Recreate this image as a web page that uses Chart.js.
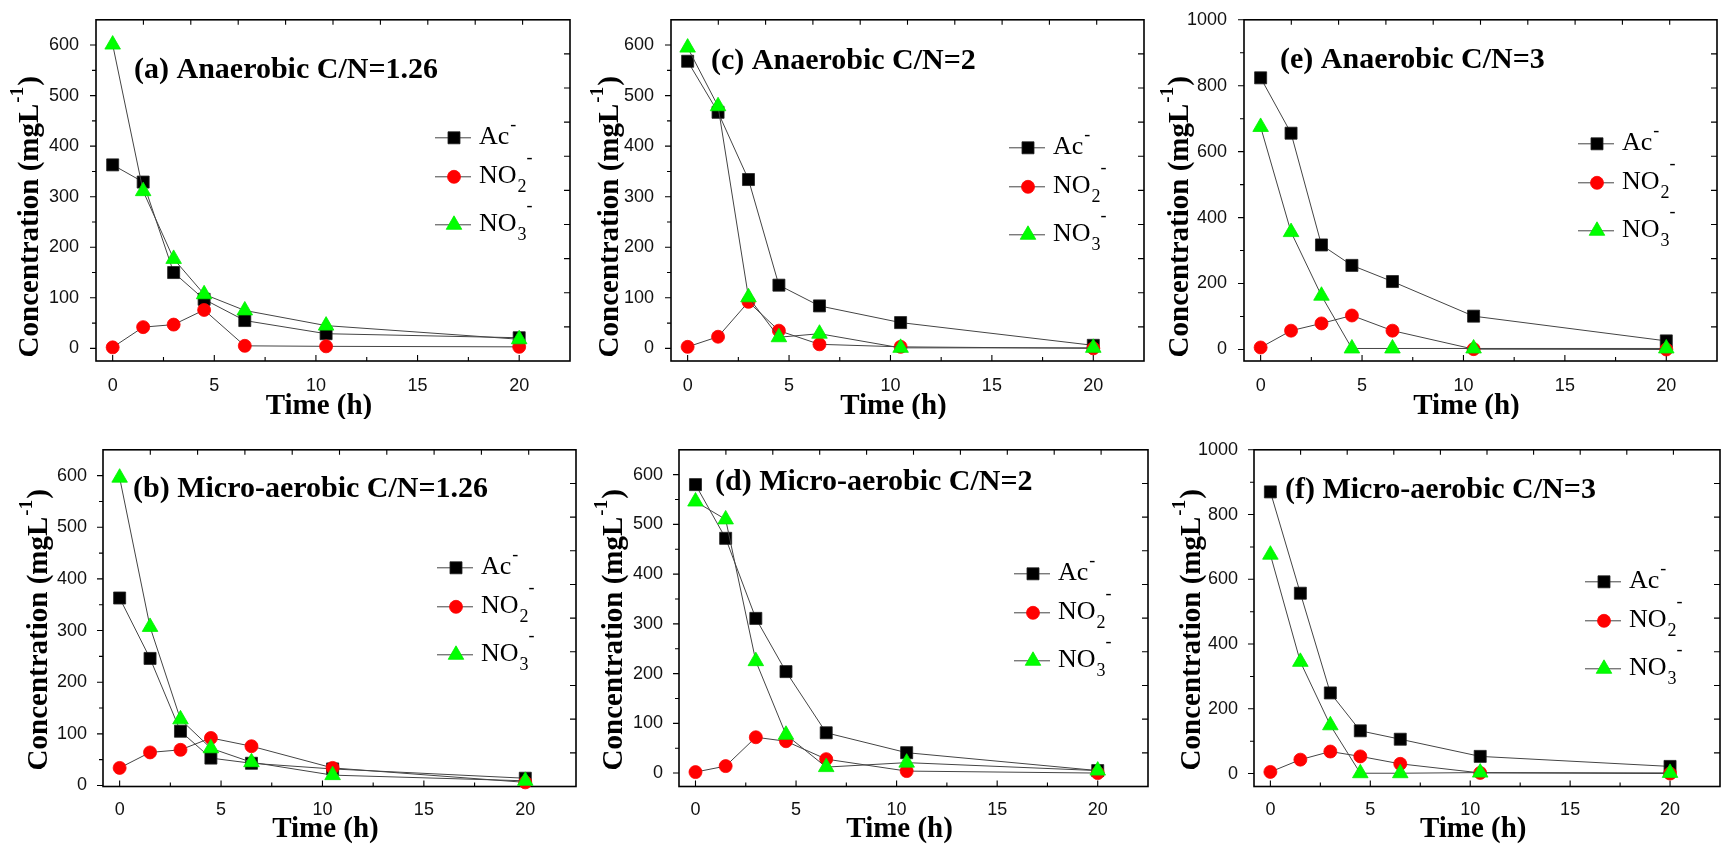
<!DOCTYPE html>
<html>
<head>
<meta charset="utf-8">
<script src="https://cdn.jsdelivr.net/npm/chart.js@4.4.0/dist/chart.umd.min.js"></script>
<style>
  html, body { margin: 0; padding: 0; background: #fff; }
  #lienzo { position: relative; width: 1723px; height: 844px; overflow: hidden; background: #fff; }
  #lienzo canvas { position: absolute; }
</style>
</head>
<body>
<div id="lienzo"></div>
<script>
// tiempos de muestreo (h) y marcas de los ejes
const horas = [0, 1.5, 3, 4.5, 6.5, 10.5, 20];
const marcasX = [0, 5, 10, 15, 20];
const marcasY600 = [0, 100, 200, 300, 400, 500, 600];
const marcasY1000 = [0, 200, 400, 600, 800, 1000];

// (a) Anaerobic C/N=1.26
const acA = [363, 329, 150, 97, 55, 29, 21];
const no2A = [2, 42, 47, 76, 5, 4, 3];
const no3A = [601, 311, 177, 107, 75, 45, 18];
// (c) Anaerobic C/N=2
const acC = [568, 467, 334, 125, 84, 51, 6];
const no2C = [3, 23, 92, 35, 8, 3, 0];
const no3C = [595, 479, 101, 22, 29, 1, 1];
// (e) Anaerobic C/N=3
const acE = [824, 656, 317, 255, 206, 101, 26];
const no2E = [6, 57, 79, 103, 57, 1, 0];
const no3E = [675, 356, 163, 3, 3, 3, 3];
// (b) Micro-aerobic C/N=1.26
const acB = [363, 246, 105, 53, 43, 32, 14];
const no2B = [34, 64, 69, 92, 76, 34, 6];
const no3B = [596, 307, 128, 72, 45, 20, 9];
// (d) Micro-aerobic C/N=2
const acD = [580, 472, 311, 204, 81, 41, 5];
const no2D = [2, 14, 72, 64, 28, 4, 0];
const no3D = [546, 510, 225, 77, 12, 21, 5];
// (f) Micro-aerobic C/N=3
const acF = [870, 557, 249, 132, 106, 53, 22];
const no2F = [5, 43, 68, 53, 30, 2, 0];
const no3F = [676, 345, 149, 1, 1, 3, 2];

const series = ['Ac-', 'NO2-', 'NO3-'];
const textoSerie = ['Ac', 'NO', 'NO'];
const subSerie = ['', '2', '3'];
const titulos = ['(a) Anaerobic C/N=1.26', '(c) Anaerobic C/N=2', '(e) Anaerobic C/N=3',
                 '(b) Micro-aerobic C/N=1.26', '(d) Micro-aerobic C/N=2', '(f) Micro-aerobic C/N=3'];

const SANS = '"Liberation Sans", Arial, sans-serif';
const SERIF = '"Liberation Serif", "Times New Roman", serif';

// estilo de cada serie
const estilos = [
  { forma: 'rect', color: '#000000', borde: '#222222', radio: 8.5, orden: 3 },
  { forma: 'circle', color: '#ff0000', borde: '#ff0000', radio: 6.5, orden: 2 },
  { forma: 'triangle', color: '#00ff00', borde: '#00ee00', radio: 9, orden: 1 }
];
const filasLeyenda = [0, 39, 87];

// geometria de cada panel (area de trazado en px de pagina)
const paneles = [
  { datos: [acA, no2A, no3A], titulo: titulos[0], caja: { l: 96, t: 8, r: 570, b: 361 },
    yMin: -25, yMax: 650, marcasY: marcasY600, titDx: 38, titDy: 58, leyDx: 116, leyDy: 118,
    ejeDx: 58, ejeDy: 197, padX: 6, padY: 9, tiempoDy: 53 },
  { datos: [acC, no2C, no3C], titulo: titulos[1], caja: { l: 671, t: 8, r: 1144, b: 361 },
    yMin: -25, yMax: 650, marcasY: marcasY600, titDx: 40, titDy: 49, leyDx: 116, leyDy: 128,
    ejeDx: 53, ejeDy: 197, padX: 6, padY: 9, tiempoDy: 53 },
  { datos: [acE, no2E, no3E], titulo: titulos[2], caja: { l: 1244, t: 8, r: 1717, b: 361 },
    yMin: -35, yMax: 1000, marcasY: marcasY1000, titDx: 36, titDy: 48, leyDx: 120, leyDy: 124,
    ejeDx: 56, ejeDy: 197, padX: 6, padY: 9, tiempoDy: 53 },
  { datos: [acB, no2B, no3B], titulo: titulos[3], caja: { l: 103, t: 439, r: 576, b: 786.5 },
    yMin: -2, yMax: 650, marcasY: marcasY600, titDx: 30, titDy: 47, leyDx: 120, leyDy: 118,
    ejeDx: 56, ejeDy: 180, padX: 5, padY: 8, tiempoDy: 50.5 },
  { datos: [acD, no2D, no3D], titulo: titulos[4], caja: { l: 679, t: 439, r: 1148, b: 786.5 },
    yMin: -27, yMax: 650, marcasY: marcasY600, titDx: 36, titDy: 40, leyDx: 115, leyDy: 124,
    ejeDx: 57, ejeDy: 180, padX: 5, padY: 8, tiempoDy: 50.5 },
  { datos: [acF, no2F, no3F], titulo: titulos[5], caja: { l: 1254, t: 439, r: 1720, b: 786.5 },
    yMin: -40, yMax: 1000, marcasY: marcasY1000, titDx: 31, titDy: 48, leyDx: 116, leyDy: 132,
    ejeDx: 54, ejeDy: 180, padX: 5, padY: 8, tiempoDy: 50.5 }
];

// marco, marcas de los ejes, titulos y leyenda
const marco = {
  id: 'marco',
  beforeDatasetsDraw(chart, args, o) {
    const { ctx, chartArea: a, scales: { x, y } } = chart;
    ctx.save();
    ctx.strokeStyle = '#000';
    ctx.lineWidth = 1.1;
    ctx.beginPath();
    const yt = y.ticks.map(t => t.value);
    yt.forEach((v, i) => {
      const p = y.getPixelForValue(v);
      ctx.moveTo(a.left - 6, p); ctx.lineTo(a.left, p);
      if (i < yt.length - 1) {
        const m = y.getPixelForValue((v + yt[i + 1]) / 2);
        ctx.moveTo(a.left - 4, m); ctx.lineTo(a.left, m);
      }
    });
    const xt = x.ticks.map(t => t.value);
    const paso = xt[1] - xt[0];
    xt.forEach(v => {
      const p = x.getPixelForValue(v);
      ctx.moveTo(p, a.bottom); ctx.lineTo(p, a.bottom - 6);
      if (v + paso / 2 < x.max) {
        const m = x.getPixelForValue(v + paso / 2);
        ctx.moveTo(m, a.bottom); ctx.lineTo(m, a.bottom - 4);
      }
    });
    // ejes opuestos: 10 divisiones
    for (let k = 1; k < 10; k++) {
      const px = a.left + (a.right - a.left) * k / 10;
      const py = a.top + (a.bottom - a.top) * k / 10;
      ctx.moveTo(px, a.top); ctx.lineTo(px, a.top + 5);
      ctx.moveTo(a.right, py); ctx.lineTo(a.right - 6, py);
    }
    ctx.stroke();
    ctx.lineWidth = 1.6;
    ctx.strokeRect(a.left, a.top, a.right - a.left, a.bottom - a.top);
    ctx.restore();
  },
  afterDraw(chart, args, o) {
    const { ctx, chartArea: a, scales: { x } } = chart;
    ctx.save();
    ctx.fillStyle = '#000';
    ctx.textBaseline = 'alphabetic';

    // titulo del panel
    ctx.font = 'bold 30px ' + SERIF;
    ctx.textAlign = 'left';
    ctx.fillText(o.titulo, a.left + o.titDx, a.top + o.titDy);

    // titulo eje x
    ctx.font = 'bold 29px ' + SERIF;
    ctx.textAlign = 'center';
    ctx.fillText('Time (h)', x.getPixelForValue(10) + 3, a.bottom + o.tiempoDy);

    // titulo eje y (rotado)
    ctx.save();
    ctx.translate(a.left - o.ejeDx, a.top + o.ejeDy);
    ctx.rotate(-Math.PI / 2);
    ctx.textAlign = 'left';
    const f1 = 'bold 29px ' + SERIF, f2 = 'bold 19px ' + SERIF;
    ctx.font = f1; const w1 = ctx.measureText('Concentration (mgL').width;
    ctx.font = f2; const w2 = ctx.measureText('-1').width;
    ctx.font = f1; const w3 = ctx.measureText(')').width;
    let x0 = -(w1 + w2 + w3 + 2) / 2;
    ctx.fillText('Concentration (mgL', x0, 0);
    ctx.font = f2; ctx.fillText('-1', x0 + w1 + 1, -15);
    ctx.font = f1; ctx.fillText(')', x0 + w1 + w2 + 2, 0);
    ctx.restore();

    // leyenda
    filasLeyenda.forEach((dy, i) => {
      const e = estilos[i];
      const mx = a.right - o.leyDx, my = a.top + o.leyDy + dy;
      ctx.strokeStyle = '#444'; ctx.lineWidth = 1;
      ctx.beginPath(); ctx.moveTo(mx - 19, my); ctx.lineTo(mx + 17, my); ctx.stroke();
      ctx.fillStyle = e.color; ctx.strokeStyle = e.borde; ctx.lineWidth = 0.8;
      Chart.helpers.drawPoint(ctx, { pointStyle: e.forma, radius: e.radio, rotation: 0, borderWidth: 0.8 }, mx, my);
      ctx.fillStyle = '#000';
      const tx = mx + 25, base = my + 6;
      ctx.font = '26px ' + SERIF; ctx.textAlign = 'left';
      ctx.fillText(textoSerie[i], tx, base);
      let w = ctx.measureText(textoSerie[i]).width;
      ctx.font = '18px ' + SERIF;
      if (subSerie[i]) {
        ctx.fillText(subSerie[i], tx + w + 1, base + 9);
        const ws = ctx.measureText(subSerie[i]).width;
        ctx.fillText('-', tx + w + ws + 1, base - 20);
      } else {
        ctx.fillText('-', tx + w + 1, base - 14);
      }
    });
    ctx.restore();
  }
};

const lienzo = document.getElementById('lienzo');

paneles.forEach(p => {
  const c = p.caja;
  const x0 = c.l - 100, x1 = c.r + 4, y0 = c.t - 8, y1 = Math.min(c.b + 58, 844);
  const cv = document.createElement('canvas');
  cv.width = x1 - x0; cv.height = y1 - y0;
  cv.style.left = x0 + 'px'; cv.style.top = y0 + 'px';
  cv.style.width = (x1 - x0) + 'px'; cv.style.height = (y1 - y0) + 'px';
  lienzo.appendChild(cv);

  const datasets = p.datos.map((vals, i) => ({
    label: series[i],
    data: horas.map((h, k) => ({ x: h, y: vals[k] })),
    borderColor: '#444',
    borderWidth: 1,
    pointStyle: estilos[i].forma,
    pointRadius: estilos[i].radio,
    pointBackgroundColor: estilos[i].color,
    pointBorderColor: estilos[i].borde,
    pointBorderWidth: 0.8,
    order: estilos[i].orden,
    clip: false,
    tension: 0
  }));

  new Chart(cv, {
    type: 'line',
    data: { datasets },
    options: {
      responsive: false,
      animation: false,
      devicePixelRatio: 1,
      layout: { autoPadding: false, padding: { left: 0, top: c.t - y0, right: x1 - c.r, bottom: 0 } },
      plugins: { legend: { display: false }, tooltip: { enabled: false }, marco: p },
      scales: {
        x: {
          type: 'linear', min: -0.82, max: 22.5,
          afterBuildTicks: s => { s.ticks = marcasX.map(v => ({ value: v })); },
          afterFit: s => { s.height = y1 - c.b; },
          grid: { display: false }, border: { display: false },
          ticks: { padding: p.padX, color: '#111', font: { family: SANS, size: 18 }, maxRotation: 0,
                   callback: v => String(v) }
        },
        y: {
          min: p.yMin, max: p.yMax,
          afterBuildTicks: s => { s.ticks = p.marcasY.map(v => ({ value: v })); },
          afterFit: s => { s.width = c.l - x0; },
          grid: { display: false }, border: { display: false },
          ticks: { padding: p.padY, color: '#111', font: { family: SANS, size: 18 },
                   callback: v => String(v) }
        }
      }
    },
    plugins: [marco]
  });
});
</script>
</body>
</html>
